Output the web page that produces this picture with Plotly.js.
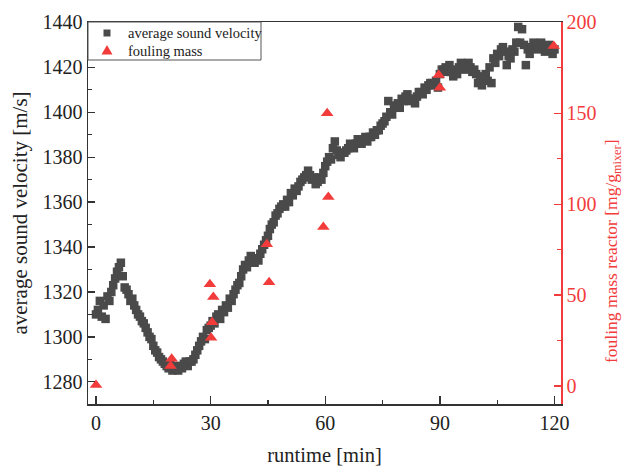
<!DOCTYPE html>
<html>
<head>
<meta charset="utf-8">
<script src="https://cdn.plot.ly/plotly-3.0.1.min.js"></script>
<style>html,body{margin:0;padding:0;background:#fff;}#chart{width:628px;height:466px;}</style>
</head>
<body>
<div id="chart"></div>
<script>
// runtime [min] of the sound velocity samples
const runtime = [
  0,0.5,1,1.5,2,2.5,3,3.5,4,4.5, 5,5.5,6,6.5,7,7.5,8,8.5,9,9.5,
  10,10.5,11,11.5,12,12.5,13,13.5,14,14.5, 15,15.5,16,16.5,17,17.5,18,18.5,19,19.5,
  20,20.5,21,21.5,22,22.5,23,23.5,24,24.5, 25,25.5,26,26.5,27,27.5,28,28.5,29,29.5,
  30,30.5,31,31.5,32,32.5,33,33.5,34,34.5, 35,35.5,36,36.5,37,37.5,38,38.5,39,39.5,
  40,40.5,41,41.5,42,42.5,43,43.5,44,44.5, 45,45.5,46,46.5,47,47.5,48,48.5,49,49.5,
  50,50.5,51,51.5,52,52.5,53,53.5,54,54.5, 55,55.5,56,56.5,57,57.5,58,58.5,59,59.5,
  60,60.5,61,61.5,62,62.5,63,63.5,64,64.5, 65,65.5,66,66.5,67,67.5,68,68.5,69,69.5,
  70,70.5,71,71.5,72,72.5,73,73.5,74,74.5, 75,75.5,76,76.5,77,77.5,78,78.5,79,79.5,
  80,80.5,81,81.5,82,82.5,83,83.5,84,84.5, 85,85.5,86,86.5,87,87.5,88,88.5,89,89.5,
  90,90.5,91,91.5,92,92.5,93,93.5,94,94.5, 95,95.5,96,96.5,97,97.5,98,98.5,99,99.5,
  100,100.5,101,101.5,102,102.5,103,103.5,104,104.5, 105,105.5,106,106.5,107,107.5,108,108.5,109,109.5,
  110,110.5,111,111.5,112,112.5,113,113.5,114,114.5, 115,115.5,116,116.5,117,117.5,118,118.5,119,119.5,
  120
];
// average sound velocity [m/s]
const velocity = [
  1310,1312,1316,1309,1314,1308,1318,1316,1320,1323, 1326,1329,1331,1333,1327,1322,1321,1319,1316,1317,
  1314,1312,1310,1309,1307,1306,1304,1302,1300,1299, 1296,1294,1293,1291,1290,1289,1288,1287,1286,1288,
  1285,1286,1287,1285,1287,1286,1288,1289,1287,1289, 1289,1290,1292,1294,1296,1298,1300,1299,1303,1304,
  1305,1307,1306,1309,1310,1308,1312,1311,1314,1313, 1317,1316,1319,1321,1323,1324,1327,1330,1332,1331,
  1334,1336,1335,1333,1335,1334,1337,1339,1341,1343, 1345,1348,1350,1351,1354,1355,1357,1358,1359,1358,
  1361,1360,1364,1363,1366,1365,1367,1369,1370,1371, 1372,1374,1372,1370,1371,1368,1369,1371,1370,1373,
  1376,1378,1380,1379,1384,1387,1383,1381,1380,1382, 1382,1383,1384,1386,1385,1384,1386,1388,1387,1386,
  1388,1389,1387,1389,1389,1391,1390,1392,1392,1394, 1395,1396,1398,1405,1400,1399,1402,1403,1404,1402,
  1406,1405,1407,1408,1405,1406,1406,1404,1407,1409, 1409,1408,1411,1410,1412,1413,1413,1412,1414,1411,
  1417,1419,1419,1420,1418,1421,1418,1416,1419,1417, 1420,1422,1421,1419,1420,1422,1420,1418,1419,1417,
  1413,1416,1412,1415,1417,1414,1420,1413,1424,1422, 1426,1425,1428,1429,1427,1421,1425,1424,1428,1427,
  1431,1438,1431,1437,1430,1421,1428,1426,1429,1431, 1430,1428,1430,1431,1429,1427,1428,1430,1428,1426,
  1428
];
// fouling mass samples [mg/g_mixer]
const foulingTime = [0, 19.5, 19.8, 29.8, 30.1, 30.4, 30.7, 44.7, 45.3, 59.5, 60.5, 60.8, 89.7, 90, 119.8];
const foulingMass = [0.5, 11, 15, 56, 26.5, 35, 49, 78, 57, 87.5, 150, 104, 171, 164, 187];

const seriesNames = ['average sound velocity', 'fouling mass'];
const xTickVals = [0, 30, 60, 90, 120];
const yTickVals = [1280, 1300, 1320, 1340, 1360, 1380, 1400, 1420, 1440];
const y2TickVals = [0, 50, 100, 150, 200];

const RED = '#f23c3c';
const GREY = '#4a4a4a';
const AX = '#333333';
const FONT = 'Liberation Serif, Times New Roman, serif';

const W = 628, H = 466;
const M = {l: 88, r: 67, t: 22, b: 62};
const PW = W - M.l - M.r, PH = H - M.t - M.b;
const px = p => (p - M.l) / PW;       // page pixel -> paper x
const py = p => (H - M.b - p) / PH;   // page pixel -> paper y

const traces = [
  {
    x: runtime, y: velocity, type: 'scatter', mode: 'markers',
    name: seriesNames[0],
    marker: {symbol: 'square', size: 8.5, color: GREY}
  },
  {
    x: foulingTime, y: foulingMass, type: 'scatter', mode: 'markers',
    name: seriesNames[1], yaxis: 'y2',
    marker: {symbol: 'triangle-up', size: 11, color: RED}
  }
];

// compact hand-built legend box (top-left, inside the plot)
const shapes = [
  {type: 'rect', xref: 'paper', yref: 'paper', x0: px(88), x1: px(261), y0: py(60), y1: py(22),
   line: {color: '#555', width: 1}, fillcolor: '#fff', layer: 'above'},
  {type: 'rect', xref: 'paper', yref: 'paper', x0: px(103.5), x1: px(110.5), y0: py(36.5), y1: py(29.5),
   line: {width: 0}, fillcolor: GREY, layer: 'above'},
  {type: 'path', xref: 'paper', yref: 'paper',
   path: `M ${px(101.5)} ${py(54.5)} L ${px(112.5)} ${py(54.5)} L ${px(107)} ${py(45)} Z`,
   line: {width: 0}, fillcolor: RED, layer: 'above'}
];
const annotations = [
  {xref: 'paper', yref: 'paper', x: px(126), y: py(32.5), xanchor: 'left', yanchor: 'middle',
   text: seriesNames[0], showarrow: false, font: {family: FONT, size: 14.5, color: '#222'}},
  {xref: 'paper', yref: 'paper', x: px(126), y: py(50.5), xanchor: 'left', yanchor: 'middle',
   text: seriesNames[1], showarrow: false, font: {family: FONT, size: 14.5, color: '#222'}},
  {xref: 'paper', yref: 'paper', x: px(612), y: py(252), xanchor: 'center', yanchor: 'middle',
   textangle: -90, text: 'fouling mass reactor [mg/g<sub>mixer</sub>]', showarrow: false,
   font: {family: FONT, size: 17.5, color: RED}}
];

const layout = {
  width: W, height: H,
  margin: M,
  paper_bgcolor: '#fff', plot_bgcolor: '#fff',
  font: {family: FONT, size: 20, color: '#222'},
  showlegend: false,
  shapes: shapes,
  annotations: annotations,
  xaxis: {
    range: [-2.1, 121.7],
    tickvals: xTickVals, ticktext: xTickVals.map(String),
    ticks: 'inside', ticklen: 8, tickwidth: 1.3, tickcolor: AX,
    minor: {tickvals: [15, 45, 75, 105], ticks: 'inside', ticklen: 4, tickcolor: AX, tickwidth: 1.3},
    showline: true, linecolor: AX, linewidth: 1.5, mirror: true,
    showgrid: false, zeroline: false,
    tickfont: {family: FONT, size: 20, color: '#222'},
    title: {text: 'runtime [min]', font: {family: FONT, size: 20.5, color: '#222'}, standoff: 16}
  },
  yaxis: {
    range: [1270.1, 1440.2],
    tickvals: yTickVals, ticktext: yTickVals.map(String),
    ticks: 'inside', ticklen: 7, tickwidth: 1.3, tickcolor: AX,
    minor: {dtick: 10, ticks: 'inside', ticklen: 4, tickcolor: AX, tickwidth: 1.3},
    showline: true, linecolor: AX, linewidth: 1.5,
    showgrid: false, zeroline: false,
    tickfont: {family: FONT, size: 20, color: '#222'},
    title: {text: 'average sound velocity [m/s]', font: {family: FONT, size: 21, color: '#222'}, standoff: 9}
  },
  yaxis2: {
    overlaying: 'y', side: 'right',
    range: [-9.9, 200.2],
    tickvals: y2TickVals, ticktext: y2TickVals.map(String),
    ticks: 'inside', ticklen: 7, tickwidth: 1.3, tickcolor: RED,
    minor: {dtick: 25, ticks: 'inside', ticklen: 4, tickcolor: RED, tickwidth: 1.3},
    showline: true, linecolor: RED, linewidth: 1.5,
    showgrid: false, zeroline: false,
    tickfont: {family: FONT, size: 20, color: RED}
  }
};

Plotly.newPlot('chart', traces, layout, {displayModeBar: false, staticPlot: true});
</script>
</body>
</html>
